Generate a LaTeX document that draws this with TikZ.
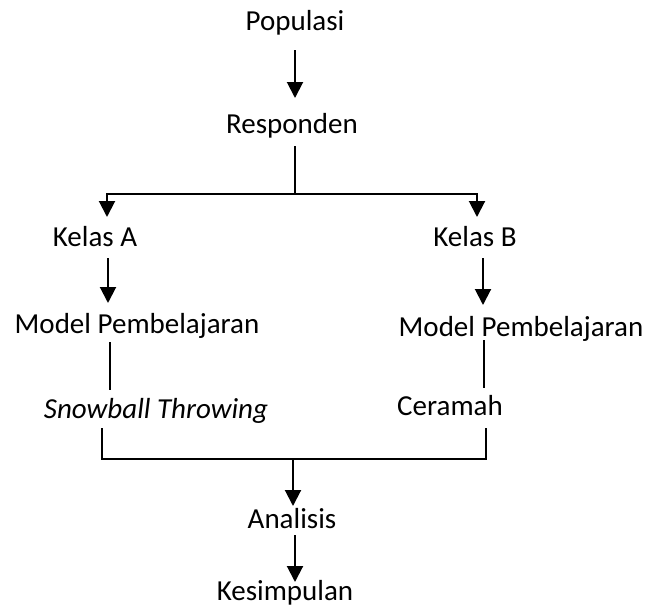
\documentclass[tikz,border=0pt]{standalone}
\usepackage{fontspec}
\setmainfont{Carlito}
\usetikzlibrary{arrows.meta}
\begin{document}
\begin{tikzpicture}[x=1pt,y=-1pt,
  lbl/.style={anchor=base,inner sep=0pt,font=\fontsize{29}{34}\selectfont},
  arr/.style={line width=2pt,-{Triangle[width=16pt,length=16pt]}},
  thick line/.style={line width=2.4pt},
  thin line/.style={line width=1.5pt}]
\useasboundingbox (0,0) rectangle (647,608);
% nodes
\node[lbl] (pop)  at (295,30) {Populasi};
\node[lbl] (resp) at (292,133) {Responden};
\node[lbl] (ka)   at (95,246) {Kelas A};
\node[lbl] (kb)   at (475,246) {Kelas B};
\node[lbl] (ma)   at (137,333) {Model Pembelajaran};
\node[lbl] (mb)   at (521,336) {Model Pembelajaran};
\node[lbl] (sa)   at (156,418) {\itshape Snowball Throwing};
\node[lbl] (cb)   at (450,415) {Ceramah};
\node[lbl] (an)   at (292,528) {Analisis};
\node[lbl] (ks)   at (285,600) {Kesimpulan};
% coordinates
\coordinate (p1) at (295,50);   \coordinate (r1) at (295,98);
\coordinate (r2) at (295,146);  \coordinate (j1) at (295,194);
\coordinate (jl) at (107,194);  \coordinate (jr) at (477,194);
\coordinate (kat) at (107,217); \coordinate (kbt) at (477,217);
\coordinate (ka1) at (108,258); \coordinate (ma1) at (108,303);
\coordinate (kb1) at (483,258); \coordinate (mb1) at (483,305);
\coordinate (ma2) at (110,342); \coordinate (sa1) at (110,390);
\coordinate (mb2) at (484,340); \coordinate (cb1) at (484,388);
\coordinate (sa2) at (102,428); \coordinate (bl) at (102,459);
\coordinate (cb2) at (486,428); \coordinate (br) at (486,459);
\coordinate (bm) at (293,459);  \coordinate (an1) at (293,506);
\coordinate (an2) at (295,535); \coordinate (ks1) at (295,582);
% connectors
\draw[arr] (p1) -- (r1);
\draw[thick line] (r2) -- (j1);
\draw[arr] (j1) -- (jl) -- (kat);
\draw[arr] (j1) -- (jr) -- (kbt);
\draw[arr] (ka1) -- (ma1);
\draw[arr] (kb1) -- (mb1);
\draw[thin line] (ma2) -- (sa1);
\draw[thin line] (mb2) -- (cb1);
\draw[thin line] (sa2) -- (bl) -- (br) -- (cb2);
\draw[arr] (bm) -- (an1);
\draw[arr] (an2) -- (ks1);
\end{tikzpicture}
\end{document}
